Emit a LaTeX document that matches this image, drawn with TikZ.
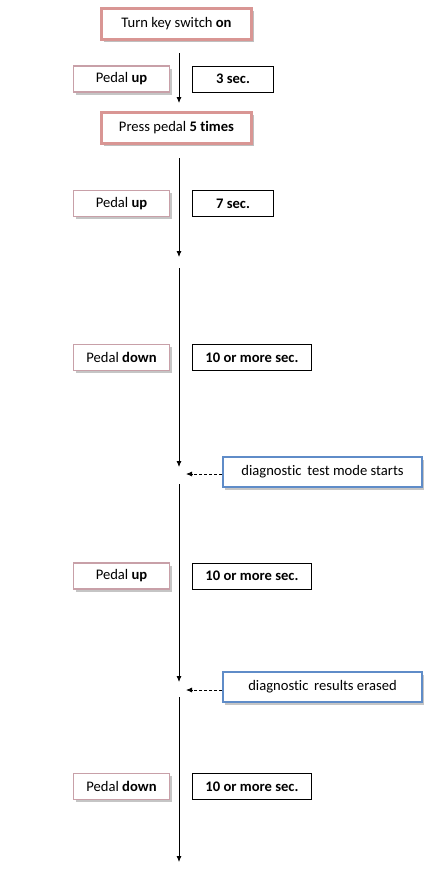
\documentclass[tikz,border=0pt]{standalone}
\usepackage{fontspec}
\setmainfont[Ligatures=NoCommon]{Carlito}
\usetikzlibrary{arrows.meta,shadows}
\definecolor{pinkA}{RGB}{217,150,148}
\definecolor{pinkB}{RGB}{200,160,168}
\definecolor{blueA}{RGB}{95,140,200}
\tikzset{
  x=1pt,y=-1pt,
  every node/.style={font=\fontsize{14.6}{16}\selectfont, inner sep=0pt, anchor=center},
  mainbox/.style={draw=pinkA, line width=3pt, fill=white, minimum width=150pt, minimum height=31pt,
     drop shadow={shadow xshift=2pt, shadow yshift=-3pt, opacity=0.5, fill=black!50}},
  pedalbox/.style={draw=pinkB, line width=1.5pt, fill=white, minimum width=96pt, minimum height=26pt,
     drop shadow={shadow xshift=2pt, shadow yshift=-2.5pt, opacity=0.45, fill=black!50}},
  timebox/.style={draw=black, line width=0.8pt, fill=white, minimum height=26pt, font=\fontsize{14.6}{16}\selectfont\bfseries},
  infobox/.style={draw=blueA, line width=2pt, fill=white, minimum width=199pt, minimum height=30pt,
     drop shadow={shadow xshift=2pt, shadow yshift=-2.5pt, opacity=0.45, fill=black!50}},
  flow/.style={draw=black, line width=0.8pt, -{Latex[length=6pt,width=5pt]}},
  dflow/.style={draw=black, line width=0.8pt, dashed, dash pattern=on 3pt off 2pt, -{Latex[length=6pt,width=5pt]}}
}
\begin{document}
\begin{tikzpicture}
\useasboundingbox (0,0) rectangle (446,871);
\fill[white] (0,0) rectangle (446,871);

\node[mainbox] (turn) at (176.5,23.5) {Turn key switch \textbf{on}};
\node[mainbox] (press) at (176.5,127.5) {Press pedal \textbf{5 times}};

\node[pedalbox] (p1) at (121.5,79) {Pedal \textbf{up}};
\node[timebox, minimum width=81pt] (t1) at (233,79) {3 sec.};

\node[pedalbox] (p2) at (121.5,203.5) {Pedal \textbf{up}};
\node[timebox, minimum width=81pt] (t2) at (233,203.5) {7 sec.};

\node[pedalbox] (p3) at (121.5,357.5) {Pedal \textbf{down}};
\node[timebox, minimum width=119pt] (t3) at (252,357.5) {10 or more sec.};

\node[infobox] (i1) at (322.5,472) {diagnostic\, test mode starts};

\node[pedalbox] (p4) at (121.5,576) {Pedal \textbf{up}};
\node[timebox, minimum width=119pt] (t4) at (252,576) {10 or more sec.};

\node[infobox] (i2) at (322.5,687) {diagnostic\, results erased};

\node[pedalbox] (p5) at (121.5,786.5) {Pedal \textbf{down}};
\node[timebox, minimum width=119pt] (t5) at (252,786.5) {10 or more sec.};

% coordinates on the main line
\coordinate (s1) at (179,53);
\coordinate (e1) at (179,103);
\coordinate (s2) at (179,158);
\coordinate (e2) at (179,257);
\coordinate (s3) at (179,268);
\coordinate (e3) at (179,467);
\coordinate (s4) at (179,484);
\coordinate (e4) at (179,682);
\coordinate (s5) at (179,697);
\coordinate (e5) at (179,862);
\coordinate (j1) at (186,474);
\coordinate (j2) at (186,690);

\draw[flow] (s1) -- (e1);
\draw[flow] (s2) -- (e2);
\draw[flow] (s3) -- (e3);
\draw[flow] (s4) -- (e4);
\draw[flow] (s5) -- (e5);

\draw[dflow] (i1.west |- j1) -- (j1);
\draw[dflow] (i2.west |- j2) -- (j2);
\end{tikzpicture}
\end{document}
